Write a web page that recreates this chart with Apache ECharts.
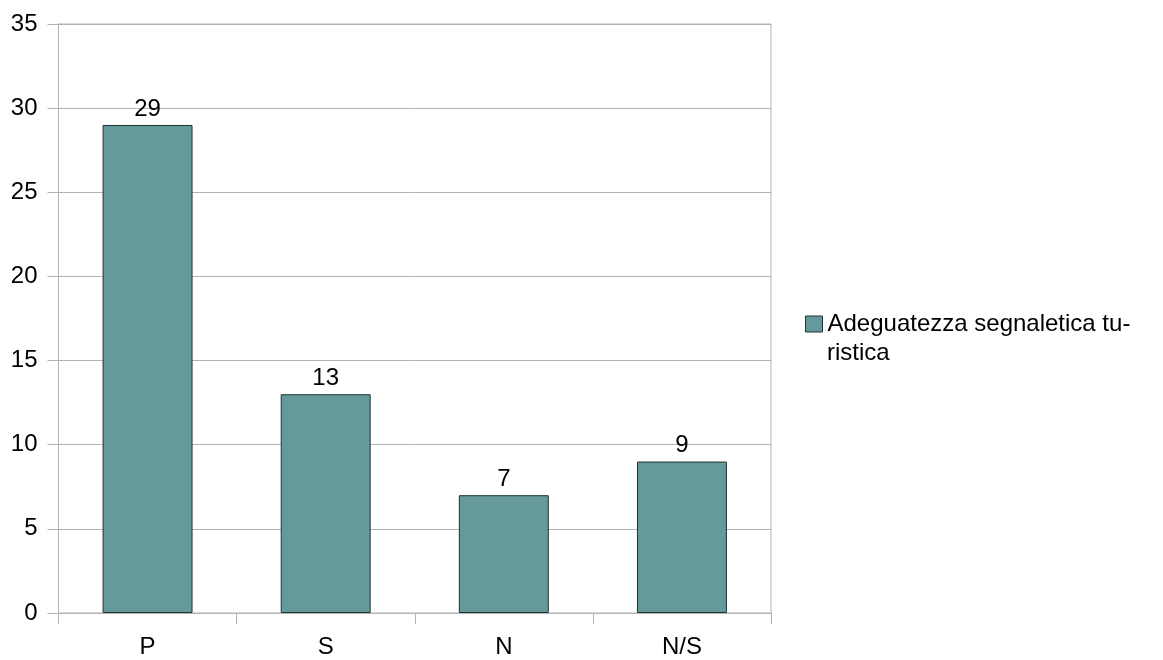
<!DOCTYPE html>
<html><head><meta charset="utf-8">
<script src="https://cdn.jsdelivr.net/npm/echarts@6/dist/echarts.min.js"></script>
<style>html,body{margin:0;padding:0;background:#fff}#c{width:1163px;height:660px}</style>
</head><body><div id="c"></div>
<script>
const categories = ["P", "S", "N", "N/S"];
const values = [29, 13, 7, 9];
const seriesName = "Adeguatezza segnaletica turistica";
const legendLines = ["Adeguatezza segnaletica tu-", "ristica"];
const yTicks = { min: 0, max: 35, interval: 5 };

const chart = echarts.init(document.getElementById('c'));
const font = "'Liberation Sans', Arial, sans-serif";
chart.setOption({
  animation: false,
  grid: { left: 58.5, right: 392, top: 24, bottom: 47, show: true, borderColor: '#b3b3b3', borderWidth: 1 },
  legend: {
    left: 805, top: 312, padding: 0, itemWidth: 17, itemHeight: 16, itemGap: 0,
    icon: 'rect',
    formatter: () => legendLines[0],
    textStyle: { fontFamily: font, fontSize: 24, color: '#000' },
    itemStyle: { borderColor: '#1e3333', borderWidth: 1 },
    data: [seriesName]
  },
  graphic: [{
    type: 'text', left: 827, top: 341,
    style: { text: legendLines[1], font: "24px 'Liberation Sans', Arial, sans-serif", fill: '#000' }
  }],
  xAxis: {
    type: 'category', data: categories,
    axisLine: { lineStyle: { color: '#b3b3b3' } },
    axisTick: { show: true, length: 11, lineStyle: { color: '#b3b3b3' } },
    axisLabel: { fontFamily: font, fontSize: 24, color: '#000', margin: 22 }
  },
  yAxis: {
    type: 'value', min: yTicks.min, max: yTicks.max, interval: yTicks.interval,
    axisLine: { show: true, lineStyle: { color: '#b3b3b3' } },
    axisTick: { show: true, length: 11, lineStyle: { color: '#b3b3b3' } },
    splitLine: { lineStyle: { color: '#b3b3b3' } },
    axisLabel: { fontFamily: font, fontSize: 24, color: '#000', margin: 21 }
  },
  series: [{
    name: seriesName, type: 'bar', data: values, barWidth: '50.5%',
    itemStyle: { color: '#669999', borderColor: '#1e3333', borderWidth: 1 },
    label: { show: true, position: 'top', distance: 4, fontFamily: font, fontSize: 24, color: '#000' }
  }]
});
</script></body></html>
